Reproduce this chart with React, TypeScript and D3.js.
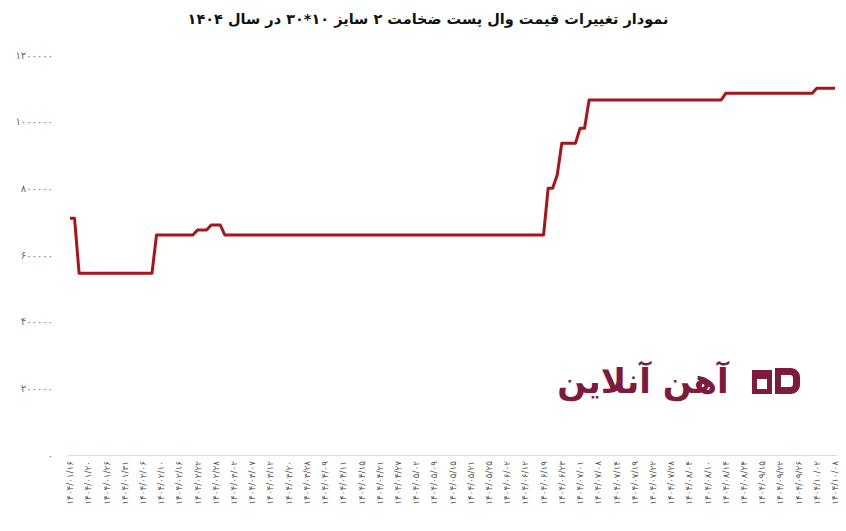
import React from "react";
import * as d3 from "d3";

const TITLE = "نمودار تغییرات قیمت وال پست  ضخامت ۲ سایز ۱۰*۳۰ در سال ۱۴۰۴";
const LOGO_TEXT = "آهن آنلاین";

// one value per price record (category axis)
const prices: number[] = [
  710000, 710000, 545000, 545000, 545000, 545000, 545000, 545000, 545000, 545000,
  545000, 545000, 545000, 545000, 545000, 545000, 545000, 545000, 545000, 660000,
  660000, 660000, 660000, 660000, 660000, 660000, 660000, 660000, 675000, 675000,
  675000, 690000, 690000, 690000, 660000, 660000, 660000, 660000, 660000, 660000,
  660000, 660000, 660000, 660000, 660000, 660000, 660000, 660000, 660000, 660000,
  660000, 660000, 660000, 660000, 660000, 660000, 660000, 660000, 660000, 660000,
  660000, 660000, 660000, 660000, 660000, 660000, 660000, 660000, 660000, 660000,
  660000, 660000, 660000, 660000, 660000, 660000, 660000, 660000, 660000, 660000,
  660000, 660000, 660000, 660000, 660000, 660000, 660000, 660000, 660000, 660000,
  660000, 660000, 660000, 660000, 660000, 660000, 660000, 660000, 660000, 660000,
  660000, 660000, 660000, 660000, 660000, 800000, 800000, 840000, 935000, 935000,
  935000, 935000, 980000, 980000, 1065000, 1065000, 1065000, 1065000, 1065000, 1065000,
  1065000, 1065000, 1065000, 1065000, 1065000, 1065000, 1065000, 1065000, 1065000, 1065000,
  1065000, 1065000, 1065000, 1065000, 1065000, 1065000, 1065000, 1065000, 1065000, 1065000,
  1065000, 1065000, 1065000, 1065000, 1085000, 1085000, 1085000, 1085000, 1085000, 1085000,
  1085000, 1085000, 1085000, 1085000, 1085000, 1085000, 1085000, 1085000, 1085000, 1085000,
  1085000, 1085000, 1085000, 1085000, 1100000, 1100000, 1100000, 1100000, 1100000,
];

// every 4th record carries a date label
const dateLabels: string[] = [
  "۱۴۰۴/۰۱/۱۶", "۱۴۰۴/۰۱/۲۰", "۱۴۰۴/۰۱/۲۶", "۱۴۰۴/۰۱/۳۱", "۱۴۰۴/۰۲/۰۶",
  "۱۴۰۴/۰۲/۱۰", "۱۴۰۴/۰۲/۱۶", "۱۴۰۴/۰۲/۲۲", "۱۴۰۴/۰۲/۲۸", "۱۴۰۴/۰۳/۰۲",
  "۱۴۰۴/۰۳/۰۷", "۱۴۰۴/۰۳/۱۲", "۱۴۰۴/۰۳/۲۰", "۱۴۰۴/۰۳/۲۸", "۱۴۰۴/۰۴/۰۹",
  "۱۴۰۴/۰۴/۱۱", "۱۴۰۴/۰۴/۱۵", "۱۴۰۴/۰۴/۲۱", "۱۴۰۴/۰۴/۲۷", "۱۴۰۴/۰۵/۰۲",
  "۱۴۰۴/۰۵/۰۹", "۱۴۰۴/۰۵/۱۵", "۱۴۰۴/۰۵/۲۱", "۱۴۰۴/۰۵/۲۵", "۱۴۰۴/۰۶/۰۲",
  "۱۴۰۴/۰۶/۱۲", "۱۴۰۴/۰۶/۱۹", "۱۴۰۴/۰۶/۲۳", "۱۴۰۴/۰۷/۰۱", "۱۴۰۴/۰۷/۰۸",
  "۱۴۰۴/۰۷/۱۴", "۱۴۰۴/۰۷/۱۹", "۱۴۰۴/۰۷/۲۲", "۱۴۰۴/۰۷/۲۸", "۱۴۰۴/۰۸/۰۴",
  "۱۴۰۴/۰۸/۱۰", "۱۴۰۴/۰۸/۱۴", "۱۴۰۴/۰۸/۲۴", "۱۴۰۴/۰۹/۱۵", "۱۴۰۴/۰۹/۲۲",
  "۱۴۰۴/۰۹/۲۶", "۱۴۰۴/۱۰/۰۲", "۱۴۰۴/۱۰/۰۸",
];
const LABEL_EVERY = 4;

const yTicks: number[] = [0, 200000, 400000, 600000, 800000, 1000000, 1200000];

const W = 846;
const H = 531;
const FONT = "'DejaVu Sans', sans-serif";
const LINE_COLOR = "#A8141A";
const LOGO_COLOR = "#7E1A3B";

const toFa = (s: string) => s.replace(/[0-9]/g, (d) => "۰۱۲۳۴۵۶۷۸۹"[+d]);

export default function App() {
  const x = d3.scaleLinear().domain([0, prices.length - 1]).range([70, 835]);
  const y = d3.scaleLinear().domain([0, 1200000]).range([455, 55]);
  const line = d3
    .line<number>()
    .x((_, i) => x(i))
    .y((d) => y(d));

  return (
    <svg
      width={W}
      height={H}
      style={{ position: "absolute", left: 0, top: 0, background: "#fff" }}
      fontFamily={FONT}
    >
      <rect width={W} height={H} fill="#fff" />
      <text
        x={428}
        y={24}
        textAnchor="middle"
        fontSize={14.5}
        fontWeight="bold"
        direction="rtl"
        fill="#111"
      >
        {TITLE}
      </text>

      {yTicks.map((t) => (
        <text
          key={t}
          x={53}
          y={y(t)}
          dy="0.35em"
          textAnchor="end"
          fontSize={10}
          fill="#666"
        >
          {toFa(String(t))}
        </text>
      ))}

      <line x1={68} x2={837} y1={455.5} y2={455.5} stroke="#d9d9d9" strokeWidth={1} />

      {dateLabels.map((lab, k) => {
        const xi = x(k * LABEL_EVERY);
        return (
          <text
            key={k}
            transform={`translate(${xi},${461}) rotate(-90)`}
            dy="0.35em"
            textAnchor="end"
            fontSize={8.8}
            fill="#555"
          >
            {lab}
          </text>
        );
      })}

      <path
        d={line(prices) || ""}
        fill="none"
        stroke={LINE_COLOR}
        strokeWidth={3}
        strokeLinejoin="round"
      />

      {/* watermark logo */}
      <g fill={LOGO_COLOR}>
        <text
          x={643}
          y={393}
          textAnchor="middle"
          fontSize={34}
          fontWeight="bold"
          direction="rtl"
        >
          {LOGO_TEXT}
        </text>
        <path d="M752,370 h20 v24 h-20 z M757,379 v10 h10 v-10 z" fillRule="evenodd" />
        <path d="M775,368 h16 a9,9 0 0 1 9,9 v8 a9,9 0 0 1 -9,9 h-16 z M781,375 v12 h9 a3,3 0 0 0 3,-3 v-6 a3,3 0 0 0 -3,-3 z" fillRule="evenodd" />
      </g>
    </svg>
  );
}
